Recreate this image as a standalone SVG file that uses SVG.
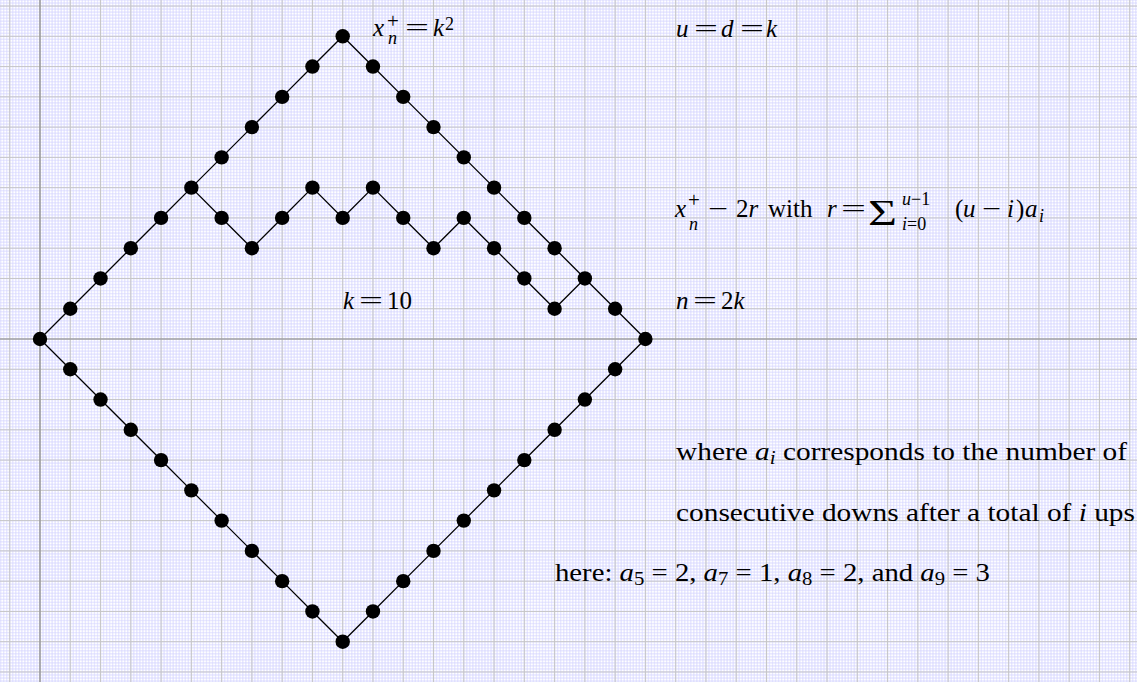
<svg xmlns="http://www.w3.org/2000/svg" width="1144" height="682" viewBox="0 0 1144 682">
<defs>
<style>
.t{font-family:"Liberation Serif","DejaVu Serif",serif;font-size:25px;fill:#000}
.i{font-style:italic}
.s{font-size:18px}
.sp{font-size:21px}
.big{font-size:35px}
.edge{fill:none;stroke:#000;stroke-width:1.3;stroke-linejoin:round}
.node circle{fill:#000}
</style>
<pattern id="minor" x="38.4865" y="337.4865" width="3.027" height="3.027" patternUnits="userSpaceOnUse">
<path d="M1.5135 0V3.027M0 1.5135H3.027" stroke="#d4d4ff" stroke-width="0.8" fill="none"/>
</pattern>
<pattern id="major" x="24.865" y="323.865" width="30.27" height="30.27" patternUnits="userSpaceOnUse">
<path d="M15.135 0V30.27M0 15.135H30.27" stroke="#c6c6c6" stroke-width="1.1" fill="none"/>
</pattern>
</defs>
<g id="grid">
<rect x="0" y="0" width="1144" height="682" fill="#fff"/>
<rect x="0" y="0" width="1137" height="682" fill="url(#minor)"/>
<rect x="0" y="0" width="1137" height="682" fill="url(#major)"/>
<path d="M40 0V682M0 339H1137" stroke="#8e8e8e" stroke-width="1.2" fill="none"/>
</g>
<g id="connectors">
<polyline class="edge" points="40,339 70.27,308.73 100.54,278.46 130.81,248.19 161.08,217.92 191.35,187.65 221.62,157.38 251.89,127.11 282.16,96.84 312.43,66.57 342.7,36.3 372.97,66.57 403.24,96.84 433.51,127.11 463.78,157.38 494.05,187.65 524.32,217.92 554.59,248.19 584.86,278.46 615.13,308.73 645.4,339"/>
<polyline class="edge" points="40,339 70.27,369.27 100.54,399.54 130.81,429.81 161.08,460.08 191.35,490.35 221.62,520.62 251.89,550.89 282.16,581.16 312.43,611.43 342.7,641.7 372.97,611.43 403.24,581.16 433.51,550.89 463.78,520.62 494.05,490.35 524.32,460.08 554.59,429.81 584.86,399.54 615.13,369.27 645.4,339"/>
<polyline class="edge" points="191.35,187.65 221.62,217.92 251.89,248.19 282.16,217.92 312.43,187.65 342.7,217.92 372.97,187.65 403.24,217.92 433.51,248.19 463.78,217.92 494.05,248.19 524.32,278.46 554.59,308.73 584.86,278.46"/>
</g>
<g id="nodes">
<g id="u0" class="node"><circle cx="40" cy="339" r="7.2"/></g>
<g id="u1" class="node"><circle cx="70.27" cy="308.73" r="7.2"/></g>
<g id="u2" class="node"><circle cx="100.54" cy="278.46" r="7.2"/></g>
<g id="u3" class="node"><circle cx="130.81" cy="248.19" r="7.2"/></g>
<g id="u4" class="node"><circle cx="161.08" cy="217.92" r="7.2"/></g>
<g id="u5" class="node"><circle cx="191.35" cy="187.65" r="7.2"/></g>
<g id="u6" class="node"><circle cx="221.62" cy="157.38" r="7.2"/></g>
<g id="u7" class="node"><circle cx="251.89" cy="127.11" r="7.2"/></g>
<g id="u8" class="node"><circle cx="282.16" cy="96.84" r="7.2"/></g>
<g id="u9" class="node"><circle cx="312.43" cy="66.57" r="7.2"/></g>
<g id="u10" class="node"><circle cx="342.7" cy="36.3" r="7.2"/></g>
<g id="u11" class="node"><circle cx="372.97" cy="66.57" r="7.2"/></g>
<g id="u12" class="node"><circle cx="403.24" cy="96.84" r="7.2"/></g>
<g id="u13" class="node"><circle cx="433.51" cy="127.11" r="7.2"/></g>
<g id="u14" class="node"><circle cx="463.78" cy="157.38" r="7.2"/></g>
<g id="u15" class="node"><circle cx="494.05" cy="187.65" r="7.2"/></g>
<g id="u16" class="node"><circle cx="524.32" cy="217.92" r="7.2"/></g>
<g id="u17" class="node"><circle cx="554.59" cy="248.19" r="7.2"/></g>
<g id="u18" class="node"><circle cx="584.86" cy="278.46" r="7.2"/></g>
<g id="u19" class="node"><circle cx="615.13" cy="308.73" r="7.2"/></g>
<g id="u20" class="node"><circle cx="645.4" cy="339" r="7.2"/></g>
<g id="l1" class="node"><circle cx="70.27" cy="369.27" r="7.2"/></g>
<g id="l2" class="node"><circle cx="100.54" cy="399.54" r="7.2"/></g>
<g id="l3" class="node"><circle cx="130.81" cy="429.81" r="7.2"/></g>
<g id="l4" class="node"><circle cx="161.08" cy="460.08" r="7.2"/></g>
<g id="l5" class="node"><circle cx="191.35" cy="490.35" r="7.2"/></g>
<g id="l6" class="node"><circle cx="221.62" cy="520.62" r="7.2"/></g>
<g id="l7" class="node"><circle cx="251.89" cy="550.89" r="7.2"/></g>
<g id="l8" class="node"><circle cx="282.16" cy="581.16" r="7.2"/></g>
<g id="l9" class="node"><circle cx="312.43" cy="611.43" r="7.2"/></g>
<g id="l10" class="node"><circle cx="342.7" cy="641.7" r="7.2"/></g>
<g id="l11" class="node"><circle cx="372.97" cy="611.43" r="7.2"/></g>
<g id="l12" class="node"><circle cx="403.24" cy="581.16" r="7.2"/></g>
<g id="l13" class="node"><circle cx="433.51" cy="550.89" r="7.2"/></g>
<g id="l14" class="node"><circle cx="463.78" cy="520.62" r="7.2"/></g>
<g id="l15" class="node"><circle cx="494.05" cy="490.35" r="7.2"/></g>
<g id="l16" class="node"><circle cx="524.32" cy="460.08" r="7.2"/></g>
<g id="l17" class="node"><circle cx="554.59" cy="429.81" r="7.2"/></g>
<g id="l18" class="node"><circle cx="584.86" cy="399.54" r="7.2"/></g>
<g id="l19" class="node"><circle cx="615.13" cy="369.27" r="7.2"/></g>
<g id="m6" class="node"><circle cx="221.62" cy="217.92" r="7.2"/></g>
<g id="m7" class="node"><circle cx="251.89" cy="248.19" r="7.2"/></g>
<g id="m8" class="node"><circle cx="282.16" cy="217.92" r="7.2"/></g>
<g id="m9" class="node"><circle cx="312.43" cy="187.65" r="7.2"/></g>
<g id="m10" class="node"><circle cx="342.7" cy="217.92" r="7.2"/></g>
<g id="m11" class="node"><circle cx="372.97" cy="187.65" r="7.2"/></g>
<g id="m12" class="node"><circle cx="403.24" cy="217.92" r="7.2"/></g>
<g id="m13" class="node"><circle cx="433.51" cy="248.19" r="7.2"/></g>
<g id="m14" class="node"><circle cx="463.78" cy="217.92" r="7.2"/></g>
<g id="m15" class="node"><circle cx="494.05" cy="248.19" r="7.2"/></g>
<g id="m16" class="node"><circle cx="524.32" cy="278.46" r="7.2"/></g>
<g id="m17" class="node"><circle cx="554.59" cy="308.73" r="7.2"/></g>
</g>
<g id="labels">
<text class="t" y="36"><tspan class="i" x="373">x</tspan><tspan class="sp" x="387" y="28">+</tspan><tspan class="s i" x="388" y="44">n</tspan><tspan x="405" y="36" textLength="24" lengthAdjust="spacingAndGlyphs">=</tspan><tspan class="i" x="433">k</tspan><tspan class="s" x="445" y="30">2</tspan></text>
<text class="t" y="37"><tspan class="i" x="676">u</tspan><tspan x="694" textLength="24" lengthAdjust="spacingAndGlyphs">=</tspan><tspan class="i" x="721">d</tspan><tspan x="740" textLength="24" lengthAdjust="spacingAndGlyphs">=</tspan><tspan class="i" x="766">k</tspan></text>
<text class="t" y="217"><tspan class="i" x="675">x</tspan><tspan class="sp" x="688" y="207">+</tspan><tspan class="s i" x="689" y="230">n</tspan><tspan x="708" y="217" textLength="20" lengthAdjust="spacingAndGlyphs">−</tspan><tspan x="736">2</tspan><tspan class="i">r</tspan><tspan x="768">with</tspan><tspan class="i" x="827">r</tspan><tspan x="841" textLength="25" lengthAdjust="spacingAndGlyphs">=</tspan><tspan class="big" x="868" y="225" textLength="29" lengthAdjust="spacingAndGlyphs">Σ</tspan><tspan class="s" x="902" y="205"><tspan class="i">u</tspan>−1</tspan><tspan class="s" x="902" y="230"><tspan class="i">i</tspan>=0</tspan><tspan x="955" y="217">(</tspan><tspan class="i" x="963">u</tspan><tspan x="982" textLength="19" lengthAdjust="spacingAndGlyphs">−</tspan><tspan class="i" x="1007">i</tspan><tspan x="1016">)</tspan><tspan class="i" x="1025">a</tspan><tspan class="s i" x="1039" y="222">i</tspan></text>
<text class="t" y="309"><tspan class="i" x="343">k</tspan><tspan x="359" textLength="24" lengthAdjust="spacingAndGlyphs">=</tspan><tspan x="387">10</tspan></text>
<text class="t" y="309"><tspan class="i" x="676">n</tspan><tspan x="693" textLength="24" lengthAdjust="spacingAndGlyphs">=</tspan><tspan x="721">2</tspan><tspan class="i">k</tspan></text>
<text class="t" x="676" y="460" textLength="451" lengthAdjust="spacingAndGlyphs">where <tspan class="i">a</tspan><tspan class="s i" dy="4">i</tspan><tspan dy="-4"> corresponds to the number of</tspan></text>
<text class="t" x="676" y="521" textLength="459" lengthAdjust="spacingAndGlyphs">consecutive downs after a total of <tspan class="i">i</tspan> ups</text>
<text class="t" x="555" y="581" textLength="435" lengthAdjust="spacingAndGlyphs">here: <tspan class="i">a</tspan><tspan class="s" dy="4">5</tspan><tspan dy="-4"> = 2, </tspan><tspan class="i">a</tspan><tspan class="s" dy="4">7</tspan><tspan dy="-4"> = 1, </tspan><tspan class="i">a</tspan><tspan class="s" dy="4">8</tspan><tspan dy="-4"> = 2, and </tspan><tspan class="i">a</tspan><tspan class="s" dy="4">9</tspan><tspan dy="-4"> = 3</tspan></text>
</g>
</svg>
